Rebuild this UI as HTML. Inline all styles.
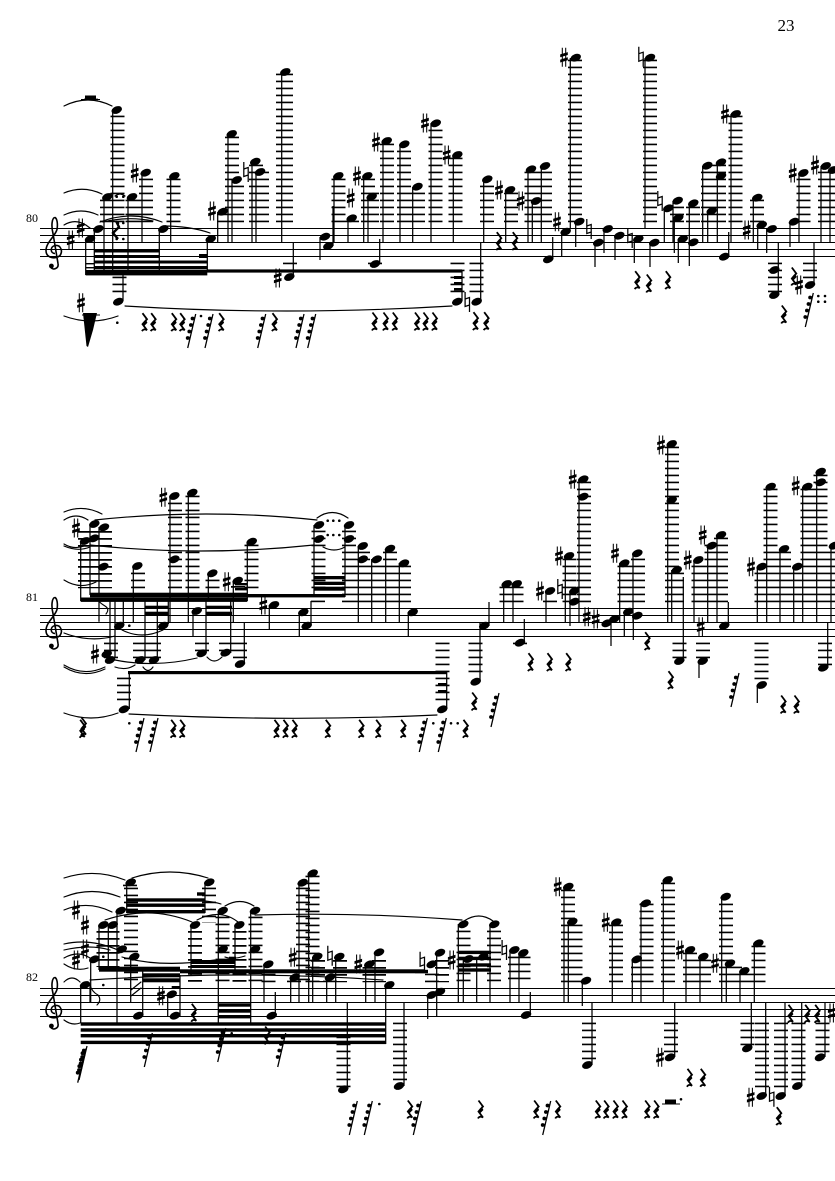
<!DOCTYPE html>
<html><head><meta charset="utf-8"><style>
html,body{margin:0;padding:0;background:#fff}
svg{display:block}
text{font-family:"Liberation Serif",serif;fill:#000}
.S{stroke:#000;stroke-width:1;fill:none}
.T{stroke:#000;stroke-width:1.25;fill:none}
.L{stroke:#000;fill:none;stroke-dasharray:1.7 5.3}
.C{stroke:#000;stroke-width:1.15;fill:none;stroke-linecap:round}
</style></head><body>
<svg width="835" height="1181" viewBox="0 0 835 1181" xmlns="http://www.w3.org/2000/svg">
<defs>
<ellipse id="h" rx="5.5" ry="3.6" transform="rotate(-22)"/>
<g id="s"><path d="M-1.7-9.5V9.5M1.7-9.5V9.5" stroke="#000" stroke-width="1.05"/><path d="M-3.8-2.9 3.8-5.2V-2.3L-3.8 0ZM-3.8 2.3 3.8 0V2.9L-3.8 5.2Z"/></g>
<path id="n" d="M-2.2-10V4.5L2.2 3M2.2 10V-4.5L-2.2-3" stroke="#000" stroke-width="1.25" fill="none"/>
<g id="r"><path d="M-1.5-9.5 3-3.5Q.5-1-1.5 1.5L3 7.5Q-.5 5.5-2 8.5" stroke="#000" stroke-width="1.8" fill="none"/><path d="M1-5 3.2-3.5-1.5 1.5 0 3.5 3.4 0Z"/></g>
<g id="t"><path d="M4-17-4 17" stroke="#000" stroke-width="1.3"/><circle cx="0.8" cy="-12.5" r="1.9"/><circle cx="-.8" cy="-6" r="1.9"/><circle cx="-2.4" cy=".5" r="1.9"/><circle cx="-4" cy="7" r="1.9"/><path d="M.8-11.5 3.5-14M-.8-5 2-7.5M-2.4 1.5 .5-1M-4 8-1 5.5" stroke="#000" stroke-width="1.1"/></g>
<g id="c"><path d="M1 4C-4 4-4-3 1-4 7-5 9 2 6 6 2 10-8 9-8 1-8-7 1-13 3-20 4-26 3-31 1-32-2-32-3-24-1-16L4 14C5 19-1 21-3 18" stroke="#000" stroke-width="1.6" fill="none"/><circle cx="-2.6" cy="16.5" r="2.4"/></g>
<circle id="d" r="1.3"/>
</defs>
<rect width="835" height="1181" fill="#fff"/>
<text x="777.5" y="31" font-size="17">23</text>
<text x="26" y="222" font-size="12">80</text>
<text x="26" y="601" font-size="12">81</text>
<text x="26" y="981" font-size="12">82</text>

<!-- staves -->
<path class="S" d="M40 228.5H835M40 235.5H835M40 242.5H835M40 249.5H835M40 256.5H835M40 608.5H835M40 615.5H835M40 622.5H835M40 629.5H835M40 636.5H835M40 988.5H835M40 995.5H835M40 1002.5H835M40 1009.5H835M40 1016.5H835"/>
<use href="#c" x="54" y="249.5"/><use href="#c" x="54" y="629.5"/><use href="#c" x="54" y="1009.5"/>

<!-- ===== SYSTEM 1 ===== -->
<path class="L" stroke-width="14" d="M117.5 115.6V222.2M107 199.6V222.2M132.5 199.6V222.2M146 178.6V222.2M173.5 178.6V222.2M224 213.6V222.2M232 136.6V222.2M237 185.6V222.2M256 164.6V222.2M262 171.6V222.2M290 262.6V271.2M338.5 178.6V222.2M352 220.6V222.2M368 178.6V222.2M372 192.6V222.2M375 262.6V264.2M387 143.6V222.2M404 150.6V222.2M418 192.6V222.2M435.5 129.6V222.2M455.5 157.6V222.2M487 185.6V222.2M511 192.6V222.2M531.5 171.6V222.2M545 171.6V222.2M575 59.6V222.2M650 59.6V222.2M677 206.6V222.2M693 206.6V222.2M708 171.6V222.2M719 164.6V222.2M735.5 115.6V222.2M757 199.6V222.2M803.5 178.6V222.2M825 171.6V222.2M833 171.6V222.2M457.5 262.6V292.2M476.5 262.6V292.2M775 262.6V292.2M810 262.6V278.2M119.5 276.6V292.2M91 98.6V100.2"/>
<path class="L" stroke-width="17" d="M284.5 73.6V222.2"/>
<path class="T" d="M85.7 239V275M94.3 229V270M104 197V270M112.7 110V270M128 197V270M142 173V243M159.3 229V270M170.7 176V243M207.3 239V270M217.7 212V243M228 134V243M232 180V243M252 162V243M256 172V243M281.7 72V243M293.3 243V277M320 237V260M333 246V206M334 176V243M348 218V243M363.7 176V243M368 197V243M379.7 239V264M383 141V243M400 144V243M412.7 187V243M431 123V243M453.3 155V243M483.7 179V243M462 270V301M480.7 242V301M123 275V301M505.7 190V243M528 169V243M532.3 201V243M541.3 166V243M552.7 237V259M561.7 232V257M575.7 222V247M570.3 58V229M595 243V267M604 229V253M615 236V260M634.3 239V263M650 243V267M645 58V229M664.3 208V243M674.3 218V253M673 201V243M689.3 203V266M678.3 239V263M707.7 211V243M702.7 166V243M717.3 162V243M731 114V243M728.7 232V256M753.3 198V243M757.7 225V249M766.7 229V253M778.3 243V295M814 243V285M790 222V247M799 173V243M821 166V243M830 170V243"/>
<!-- beams -->
<rect x="85.7" y="270" width="121.6" height="5.4"/>
<rect x="207" y="269.4" width="255" height="3.2"/>
<rect x="94.3" y="249.5" width="65" height="3"/>
<rect x="94.3" y="255" width="65" height="3"/>
<rect x="94.3" y="260.5" width="113" height="3"/>
<rect x="94.3" y="266" width="113" height="3.4"/>
<rect x="199" y="254" width="8" height="4"/>
<rect x="85.7" y="263" width="8.6" height="1.4"/><rect x="85.7" y="267" width="8.6" height="1.4"/>
<rect x="454" y="276" width="8" height="3"/><rect x="454" y="282" width="8" height="3"/><rect x="454" y="288" width="8" height="2.6"/>
<!-- heads -->
<g>
<use href="#h" x="116.7" y="110"/><use href="#h" x="107.3" y="197"/><use href="#h" x="132" y="197"/><use href="#h" x="145.7" y="172.7"/><use href="#h" x="174.3" y="176"/><use href="#h" x="222.7" y="211.7"/><use href="#h" x="231.7" y="134"/><use href="#h" x="236.7" y="180"/><use href="#h" x="255.3" y="161.7"/><use href="#h" x="260" y="172"/><use href="#h" x="285.3" y="72"/><use href="#h" x="289.3" y="277"/><use href="#h" x="325" y="236.7"/><use href="#h" x="328.3" y="246"/><use href="#h" x="338.3" y="176"/><use href="#h" x="351.7" y="218.3"/><use href="#h" x="367.3" y="176"/><use href="#h" x="371.7" y="196.7"/><use href="#h" x="375" y="264"/><use href="#h" x="386.7" y="141"/><use href="#h" x="404.3" y="144.3"/><use href="#h" x="417.5" y="186.7"/><use href="#h" x="435.7" y="123.3"/><use href="#h" x="457.3" y="155"/><use href="#h" x="487.3" y="179.3"/><use href="#h" x="457.3" y="301.7"/><use href="#h" x="476.7" y="301.7"/><use href="#h" x="510" y="190"/><use href="#h" x="531" y="169.3"/><use href="#h" x="536" y="201"/><use href="#h" x="545" y="166"/><use href="#h" x="548.3" y="259.3"/><use href="#h" x="565.7" y="231.7"/><use href="#h" x="579.3" y="221.7"/><use href="#h" x="575.7" y="57.7"/><use href="#h" x="598.3" y="242.7"/><use href="#h" x="607.7" y="229"/><use href="#h" x="619.3" y="235.7"/><use href="#h" x="638.3" y="239"/><use href="#h" x="654.3" y="242.7"/><use href="#h" x="650" y="57.7"/><use href="#h" x="668.3" y="208.3"/><use href="#h" x="677.7" y="200.7"/><use href="#h" x="678.3" y="217.7"/><use href="#h" x="693.3" y="203.3"/><use href="#h" x="682.7" y="239"/><use href="#h" x="693.3" y="242.3"/><use href="#h" x="711.7" y="211"/><use href="#h" x="707.3" y="165.7"/><use href="#h" x="721" y="162.3"/><use href="#h" x="721" y="176"/><use href="#h" x="735.7" y="114"/><use href="#h" x="724.3" y="256.7"/><use href="#h" x="757.3" y="197.7"/><use href="#h" x="761.7" y="225"/><use href="#h" x="771.7" y="229"/><use href="#h" x="774.3" y="295"/><use href="#h" x="774.3" y="270"/><use href="#h" x="810" y="285"/><use href="#h" x="794" y="221.7"/><use href="#h" x="803.3" y="173"/><use href="#h" x="825.7" y="166"/><use href="#h" x="833" y="170"/><use href="#h" x="90" y="239"/><use href="#h" x="98.3" y="229"/><use href="#h" x="163.3" y="229"/><use href="#h" x="210.7" y="239"/><use href="#h" x="118.3" y="301.7"/>
</g>
<!-- accidentals -->
<use href="#s" x="70.7" y="240"/><use href="#s" x="80.7" y="228"/><use href="#s" x="134.7" y="173"/><use href="#s" x="212" y="211"/><use href="#n" x="246" y="172"/><use href="#s" x="277.7" y="278"/><use href="#s" x="350.7" y="198"/><use href="#s" x="357" y="176"/><use href="#s" x="376" y="142"/><use href="#s" x="425" y="123"/><use href="#s" x="446.7" y="155"/><use href="#n" x="467.3" y="302"/><use href="#s" x="499" y="190"/><use href="#s" x="520.7" y="201"/><use href="#s" x="557" y="221.7"/><use href="#s" x="564" y="57.3"/><use href="#n" x="589" y="229"/><use href="#n" x="630" y="238"/><use href="#n" x="641" y="56.7"/><use href="#n" x="660" y="201"/><use href="#s" x="725" y="114"/><use href="#s" x="746.7" y="230"/><use href="#s" x="799" y="285"/><use href="#s" x="792.7" y="173"/><use href="#s" x="815" y="165"/><use href="#s" x="81" y="302.7"/>
<!-- rests -->
<rect x="85" y="95.5" width="11" height="3.6"/><path class="S" d="M81 99.5H100"/>
<path d="M83 313H97L93 330 88 347 86.5 346Z"/><path class="S" d="M82 315H100"/>
<use href="#r" x="144" y="322.7"/><use href="#r" x="152.7" y="322.7"/><use href="#r" x="173.3" y="322.7"/><use href="#r" x="181.7" y="322.7"/><use href="#t" x="191.7" y="331"/><use href="#t" x="209" y="331"/><use href="#r" x="220.7" y="322.7"/><use href="#t" x="261.7" y="331"/><use href="#r" x="274" y="322.7"/><use href="#t" x="300" y="331"/><use href="#t" x="311.7" y="331"/><use href="#r" x="374" y="322"/><use href="#r" x="385" y="322"/><use href="#r" x="394.3" y="322"/><use href="#r" x="416.5" y="322"/><use href="#r" x="425" y="322"/><use href="#r" x="434" y="322"/><use href="#r" x="475" y="321.7"/><use href="#r" x="485.7" y="321.7"/><use href="#r" x="498.3" y="241.7"/><use href="#r" x="514.3" y="241.7"/><use href="#r" x="636.7" y="280.7"/><use href="#r" x="648.3" y="284"/><use href="#r" x="667.3" y="280.7"/><use href="#r" x="783.3" y="315"/><use href="#r" x="793.3" y="277"/><use href="#t" x="809.3" y="310"/>
<!-- dots -->
<use href="#d" x="116.7" y="196.7"/><use href="#d" x="123.3" y="196.7"/><use href="#d" x="116.7" y="239"/><use href="#d" x="123.3" y="239"/><use href="#d" x="118" y="223"/><use href="#d" x="123.3" y="223"/><use href="#d" x="117.3" y="322.7"/><use href="#d" x="201" y="316"/><use href="#d" x="818.3" y="296"/><use href="#d" x="825" y="296"/><use href="#d" x="818.3" y="301.7"/><use href="#d" x="825" y="301.7"/>
<path d="M116 221 119 227 113 233 118 239" stroke="#000" stroke-width="2.4" fill="none"/>
<!-- slurs -->
<path class="C" d="M64 106Q88 94 112 106M64 193Q83 185 102 194M64 215Q81 207 98 215M64 225Q77 217 90 228M100 222Q131 210 162 222M103 222Q128 216 153 221M115 196Q120 192 125 196M163 226Q190 226 210 233M125 306Q285 316 452 306M64 316Q91 326 118 316"/>

<!-- ===== SYSTEM 2 ===== -->
<path class="L" stroke-width="14" d="M85 531V588.2M95 531V588.2M105 531V588.2M138 572.6V588.2M175 502.6V588.2M192.5 495.6V588.2M212.5 579.6V588.2M238 586V588.2M251.5 544.6V588.2M318.5 530.6V588.2M349 530.6V602.2M363 551.6V602.2M377 565.6V602.2M390 551.6V602.2M404 565.6V602.2M140 642.6V658.2M154 642.6V658.2M111 642.6V658.2M202 642.6V651.2M226 642.6V651.2M240 642.6V658.2M124 677.6V700.2M442.5 642.6V702.2M475.5 642.6V672.2M506.5 586.6V602.2M516.5 586.6V602.2M520 642.6V644.2M550 600.6V602.2M569.5 558.6V602.2M584 481.6V602.2M624.5 565.6V602.2M638 558.6V602.2M672 446.6V602.2M677 572.6V602.2M679.5 642.6V658.2M698.5 565.6V602.2M711.5 544.6V602.2M721 537.6V602.2M703 642.6V658.2M761.5 642.6V679.2M761.5 572.6V602.2M770.5 488.6V602.2M784 551.6V602.2M797.5 572.6V602.2M807.5 488.6V602.2M820.5 474.6V602.2M825 642.6V665.2M833 551.6V602.2"/>
<path class="L" stroke-width="14" d="M318 600.6V602.2"/>
<path class="T" d="M80.7 541V601M90 524V595M99 527V595M99 601V621.7M133.3 566V622M170 496V622M188.3 493V622M208.3 573V601M233.3 581V622M247.3 542V601M314 525V597M345 525V597M358.3 546V622M371.7 559V622M385.7 549V622M399.3 563V622M408.3 612V636M269.3 605V629M299.3 612V636M311 601V626M110 598V660M115 598V657M123.3 598V622M145 598V660M157.3 598V660M168.3 598V624M193 611V636M206 598V653M230.7 598V653M244.3 622V664M129.3 672V709M446.7 672V709M480 622V682M489 602V626M503.7 584V622M513 584V622M524.3 619V643M546 591V622M570 591V626M565.3 556V622M579 479V622M611 619V646M619.7 563V622M633 553V622M624.3 612V637M633.3 616V640M667.7 444V622M671.7 570V622M683.3 577V661M694 560V622M707.7 546V622M717 535V622M699 661V678M728.3 602V626M757.3 685V703M757.3 567V622M766.7 487V622M780 549V622M793.7 567V622M802.7 487V622M816.7 472V622M827.7 622V668M831 546V622"/>
<path class="C" stroke-width="1.5" d="M99 601Q100 603 105 606 110 609 106 614"/>
<!-- beams -->
<rect x="90" y="592.7" width="157.3" height="4.6"/>
<rect x="80.7" y="597.5" width="166.6" height="4.4"/>
<rect x="247" y="594" width="98" height="3.4"/>
<rect x="314" y="576" width="31" height="3.3"/><rect x="314" y="581.7" width="31" height="3.3"/><rect x="314" y="586.7" width="31" height="4"/>
<rect x="145" y="605.7" width="23" height="2.8"/><rect x="145" y="611.7" width="23" height="3.3"/>
<rect x="206" y="605.7" width="26" height="2.8"/><rect x="206" y="611.7" width="26" height="3.3"/>
<rect x="235" y="583" width="12" height="2.4"/><rect x="235" y="588" width="12" height="2.4"/>
<rect x="128" y="671" width="319" height="3.2"/>
<rect x="438" y="683" width="8.5" height="3"/><rect x="438" y="690" width="8.5" height="3"/>
<!-- heads -->
<g>
<use href="#h" x="85" y="541"/><use href="#h" x="94" y="538.3"/><use href="#h" x="94.3" y="524"/><use href="#h" x="104" y="527.3"/><use href="#h" x="103.3" y="566.7"/><use href="#h" x="137.3" y="566"/><use href="#h" x="174.3" y="496"/><use href="#h" x="174.3" y="559.3"/><use href="#h" x="192.3" y="492.7"/><use href="#h" x="212.3" y="573.3"/><use href="#h" x="237.7" y="580.7"/><use href="#h" x="251.7" y="541.7"/><use href="#h" x="319" y="525"/><use href="#h" x="319" y="539"/><use href="#h" x="349" y="525"/><use href="#h" x="349" y="539"/><use href="#h" x="362.7" y="546"/><use href="#h" x="362.7" y="559.3"/><use href="#h" x="376.7" y="559.3"/><use href="#h" x="390" y="548.7"/><use href="#h" x="404" y="563.3"/><use href="#h" x="412.7" y="612.3"/><use href="#h" x="274" y="605"/><use href="#h" x="303.3" y="612.3"/><use href="#h" x="306.7" y="625.7"/><use href="#h" x="119.3" y="625.7"/><use href="#h" x="163.3" y="625.7"/><use href="#h" x="140" y="660"/><use href="#h" x="154" y="660"/><use href="#h" x="106.7" y="654"/><use href="#h" x="110" y="660"/><use href="#h" x="196.7" y="611"/><use href="#h" x="201.7" y="653.3"/><use href="#h" x="225.7" y="652.7"/><use href="#h" x="240" y="664"/><use href="#h" x="124" y="709.3"/><use href="#h" x="442.3" y="709.3"/><use href="#h" x="484.3" y="625.7"/><use href="#h" x="475.7" y="681.7"/><use href="#h" x="506.7" y="584"/><use href="#h" x="516.7" y="584"/><use href="#h" x="520" y="642.7"/><use href="#h" x="550" y="591"/><use href="#h" x="574.3" y="591"/><use href="#h" x="574.3" y="601.7"/><use href="#h" x="569" y="556"/><use href="#h" x="583.3" y="479.3"/><use href="#h" x="583.3" y="496.7"/><use href="#h" x="606.7" y="623.3"/><use href="#h" x="614.3" y="619"/><use href="#h" x="624.3" y="563.3"/><use href="#h" x="637.3" y="553.3"/><use href="#h" x="628.3" y="611.7"/><use href="#h" x="637.3" y="615.7"/><use href="#h" x="671.7" y="444"/><use href="#h" x="671.7" y="500"/><use href="#h" x="676.7" y="570"/><use href="#h" x="679.3" y="661"/><use href="#h" x="698.3" y="560"/><use href="#h" x="711.7" y="545.7"/><use href="#h" x="721" y="535"/><use href="#h" x="702.7" y="661"/><use href="#h" x="724.3" y="625.7"/><use href="#h" x="761.7" y="685"/><use href="#h" x="761.7" y="566.7"/><use href="#h" x="770.7" y="486.7"/><use href="#h" x="784" y="549"/><use href="#h" x="797.3" y="566.7"/><use href="#h" x="807.3" y="486.7"/><use href="#h" x="820.7" y="471.7"/><use href="#h" x="820.7" y="482.3"/><use href="#h" x="834" y="545.7"/><use href="#h" x="823.3" y="667.7"/>
</g>
<!-- accidentals -->
<use href="#s" x="76" y="528"/><use href="#s" x="95" y="654"/><use href="#s" x="163.3" y="497.3"/><use href="#s" x="226.7" y="581.7"/><use href="#s" x="263.3" y="605"/><use href="#s" x="540" y="591"/><use href="#n" x="560" y="589"/><use href="#s" x="559" y="556"/><use href="#s" x="572.7" y="479.3"/><use href="#s" x="586.7" y="616.7"/><use href="#s" x="595.7" y="619"/><use href="#s" x="615" y="553.3"/><use href="#s" x="661" y="445"/><use href="#s" x="687.7" y="560"/><use href="#s" x="702.7" y="535"/><use href="#s" x="700.7" y="626.7"/><use href="#s" x="751" y="566.7"/><use href="#s" x="795.7" y="485.7"/>
<!-- rests -->
<use href="#r" x="81.7" y="729.3"/><use href="#r" x="83" y="727"/><use href="#t" x="140" y="735"/><use href="#t" x="154" y="735"/><use href="#r" x="172.7" y="729.3"/><use href="#r" x="181.7" y="729.3"/><use href="#r" x="276" y="729.3"/><use href="#r" x="285" y="729.3"/><use href="#r" x="294" y="729.3"/><use href="#r" x="327.3" y="729.3"/><use href="#r" x="360.7" y="729.3"/><use href="#r" x="377.7" y="729.3"/><use href="#r" x="402.7" y="729.3"/><use href="#t" x="423.3" y="735"/><use href="#t" x="442.3" y="735"/><use href="#r" x="465" y="729.3"/><use href="#t" x="495" y="710"/><use href="#r" x="473.7" y="702"/><use href="#r" x="530" y="662.7"/><use href="#r" x="549" y="662.7"/><use href="#r" x="567.7" y="662.7"/><use href="#r" x="646.7" y="641.7"/><use href="#r" x="670" y="680.7"/><use href="#t" x="735" y="690"/><use href="#r" x="782.7" y="705"/><use href="#r" x="796" y="705"/>
<!-- dots -->
<use href="#d" x="129.3" y="625.7"/><use href="#d" x="327.7" y="520.7"/><use href="#d" x="333.3" y="520.7"/><use href="#d" x="339.3" y="520.7"/><use href="#d" x="327.7" y="535"/><use href="#d" x="333.3" y="535"/><use href="#d" x="339.3" y="535"/><use href="#d" x="129.3" y="723.3"/><use href="#d" x="433.3" y="723.3"/><use href="#d" x="451" y="723.3"/><use href="#d" x="457.7" y="723.3"/>
<!-- slurs -->
<path class="C" d="M64 512Q83 504 102 514M64 520Q76 512 88 520M64 544Q74 550 84 546M64 546Q78 552 90 547M64 580Q80 590 96 582M64 633Q90 643 115 636M64 665Q84 677 105 667M64 667Q84 679 105 669M95 520Q206 508 317 520M90 545Q200 557 314 545M317 518Q332 507 348 518M323 547Q334 553 345 547M122 630Q142 640 163 630M115 660Q155 668 197 658M207 657Q214 665 222 657M115 667Q126 671 135 665M143 667Q148 674 153 667M64 713Q91 723 118 713M129 714Q285 722 437 715"/>

<!-- ===== SYSTEM 3 ===== -->
<path class="L" stroke-width="14" d="M131 887.6V982.2M130 884.6V886.2M209 887.6V923M103.5 931V967M112.5 931V967M222.5 916.6V982.2M255.5 916.6V982.2M195 931V982.2M239.5 931V982.2M268.5 973.6V982.2M303 887.6V982.2M312.5 875.6V982.2M318 960V982.2M340 960V982.2M369.5 967V982.2M379 960V982.2M294 980.6V982.2M330 980.6V982.2M343.5 1022.6V1087.2M400 1022.6V1080.2M432 973.6V982.2M442 960V982.2M463.5 930.6V982.2M494 930.6V982.2M515 956.6V982.2M523.5 956.6V982.2M568 889.6V982.2M575.5 924.6V982.2M589 1022.6V1059.2M616 924.6V982.2M638 966.6V982.2M646.5 903.6V982.2M668 882.6V982.2M690 952.6V982.2M704 959.6V982.2M726 903.6V982.2M735 966.6V982.2M745.5 973.6V982.2M758.5 945.6V982.2M671 1022.6V1052.2M747.5 1022.6V1045.2M762 1022.6V1087.2M781 1022.6V1087.2M798.5 1022.6V1080.2M822.5 1022.6V1052.2"/>
<path class="T" d="M80.7 985V1023.3M90 985V1002M126.7 882V913M205 882V913M117 911V1023M99 925V970M108.3 925V970M90.7 959V1002M130.7 957V1002M142.7 970V1015M180 975V1016M167.7 994V1017M218.3 911V1023M250.7 911V1023M191 925V975M235 925V975M264 964V1002M275.3 992V1016M299 883V1002M308.7 873V1002M290.7 977V1002M312.7 957V1002M326.7 977V1002M335.7 957V1002M365.7 964V1002M375 952V1002M385.7 985V1044M347.3 1002V1089M404 1002V1086M427.7 995V1019M436.7 953V1017M458.3 924V1002M490 924V1002M463.3 959V1002M476.7 957V1002M510 950V1002M519 953V1002M530.3 992V1015M582.3 981V1006M564 887V1002M568.3 922V1002M592 1002V1065M612.3 922V1002M632.3 959V1002M641 903V1002M663.3 880V1002M686 950V1002M700 957V1002M721.7 897V1002M726.3 963V1002M740 971V1002M754.3 943V1002M674.7 1002V1057M751.3 1002V1048M765.7 1002V1096M785 1002V1096M801.7 1002V1086M825 1002V1057"/>
<path class="C" stroke-width="1.6" d="M90 985Q92 992 98 995 102 1000 97 1005M131 990 141 982M131 996 141 988"/>
<!-- beams -->
<rect x="80.7" y="1022.3" width="305.3" height="3.4"/><rect x="80.7" y="1028.3" width="305.3" height="3.4"/><rect x="80.7" y="1034" width="305.3" height="3.4"/><rect x="80.7" y="1040.7" width="305.3" height="3.4"/>
<rect x="218.3" y="1003.3" width="32.4" height="3.4"/><rect x="218.3" y="1009.3" width="32.4" height="3.4"/><rect x="218.3" y="1015" width="32.4" height="3.4"/>
<rect x="126.7" y="898.3" width="78.3" height="3.4"/><rect x="126.7" y="903.5" width="78.3" height="3.4"/><rect x="126.7" y="910" width="78.3" height="3.4"/><rect x="197" y="892.3" width="7.5" height="3.4"/>
<rect x="99" y="966.7" width="81" height="5"/><rect x="180" y="969.3" width="245" height="4"/>
<rect x="142.7" y="973.3" width="37.3" height="4"/><rect x="142.7" y="978.3" width="37.3" height="4"/>
<rect x="191" y="960" width="44" height="4"/><rect x="191" y="965" width="44" height="3"/><rect x="229" y="956.7" width="7" height="3.4"/>
<rect x="171.7" y="986" width="8.3" height="2.4"/>
<rect x="415" y="969.8" width="13" height="3.4"/>
<rect x="458.3" y="950.7" width="32.7" height="3.4"/><rect x="458.3" y="956.7" width="32.7" height="3.4"/><rect x="458.3" y="963.3" width="32.7" height="3.4"/><rect x="458.3" y="968.3" width="32.7" height="3.4"/>
<!-- heads -->
<g>
<use href="#h" x="130.7" y="882.3"/><use href="#h" x="209.3" y="882.3"/><use href="#h" x="120.7" y="910.7"/><use href="#h" x="103.3" y="925"/><use href="#h" x="112.7" y="925"/><use href="#h" x="94.3" y="959.3"/><use href="#h" x="121.7" y="949.3"/><use href="#h" x="134.3" y="956.7"/><use href="#h" x="138.3" y="1015.7"/><use href="#h" x="175" y="1015.7"/><use href="#h" x="171.7" y="994.3"/><use href="#h" x="85" y="985"/><use href="#h" x="222.7" y="910.7"/><use href="#h" x="255" y="910.7"/><use href="#h" x="222.7" y="949.3"/><use href="#h" x="255" y="949.3"/><use href="#h" x="195" y="925"/><use href="#h" x="239.3" y="925"/><use href="#h" x="268.3" y="964.3"/><use href="#h" x="271.7" y="1015.7"/><use href="#h" x="302.7" y="882.7"/><use href="#h" x="312.7" y="873.3"/><use href="#h" x="317.3" y="956.7"/><use href="#h" x="294.7" y="977.3"/><use href="#h" x="339.3" y="956.7"/><use href="#h" x="330" y="977.3"/><use href="#h" x="369.3" y="964.3"/><use href="#h" x="379" y="952.3"/><use href="#h" x="389.3" y="985"/><use href="#h" x="343.3" y="1089.3"/><use href="#h" x="399" y="1086"/><use href="#h" x="431.7" y="964.3"/><use href="#h" x="440" y="952.7"/><use href="#h" x="431.7" y="995"/><use href="#h" x="440" y="991.7"/><use href="#h" x="463.3" y="924.3"/><use href="#h" x="494.3" y="924.3"/><use href="#h" x="468.3" y="959"/><use href="#h" x="483.3" y="956.7"/><use href="#h" x="514.3" y="950"/><use href="#h" x="523.3" y="953"/><use href="#h" x="526" y="1015"/><use href="#h" x="586" y="980.7"/><use href="#h" x="568.3" y="886.7"/><use href="#h" x="572.3" y="921.7"/><use href="#h" x="587.3" y="1065"/><use href="#h" x="616.3" y="922.3"/><use href="#h" x="636.7" y="959.3"/><use href="#h" x="645.7" y="903.3"/><use href="#h" x="667.7" y="880"/><use href="#h" x="690" y="950"/><use href="#h" x="703.3" y="956.7"/><use href="#h" x="725.7" y="896.7"/><use href="#h" x="730" y="963.3"/><use href="#h" x="744.3" y="971"/><use href="#h" x="758.3" y="943.3"/><use href="#h" x="670" y="1057.3"/><use href="#h" x="747.3" y="1048.3"/><use href="#h" x="761.7" y="1096"/><use href="#h" x="780.7" y="1096"/><use href="#h" x="797.3" y="1086"/><use href="#h" x="820" y="1057.3"/>
</g>
<!-- accidentals -->
<use href="#s" x="76" y="910"/><use href="#s" x="85" y="925"/><use href="#s" x="85" y="949"/><use href="#s" x="76" y="960"/><use href="#s" x="161" y="995.7"/><use href="#s" x="292.7" y="957.3"/><use href="#n" x="330" y="955.7"/><use href="#s" x="358.3" y="964"/><use href="#n" x="422.3" y="961.7"/><use href="#s" x="451.7" y="960"/><use href="#n" x="504.3" y="950"/><use href="#s" x="557.7" y="886.7"/><use href="#s" x="605.7" y="922.3"/><use href="#s" x="680" y="950"/><use href="#s" x="715" y="963.3"/><use href="#s" x="660" y="1057.3"/><use href="#s" x="750.7" y="1097.3"/><use href="#n" x="771.7" y="1096.7"/><use href="#s" x="831.7" y="1013"/>
<!-- rests -->
<use href="#r" x="193.3" y="1013.3"/><use href="#t" x="81.7" y="1065.7"/><use href="#t" x="83" y="1063"/><use href="#t" x="148.3" y="1050"/><use href="#t" x="221.7" y="1045"/><use href="#r" x="266.7" y="1036"/><use href="#t" x="281.7" y="1050"/><use href="#t" x="353.3" y="1118"/><use href="#t" x="368.3" y="1118"/><use href="#r" x="409.3" y="1110"/><use href="#t" x="417.3" y="1118"/><use href="#r" x="480" y="1110"/><use href="#r" x="535.7" y="1110"/><use href="#t" x="546.7" y="1118"/><use href="#r" x="557.3" y="1110"/><use href="#r" x="597.3" y="1110"/><use href="#r" x="605.7" y="1110"/><use href="#r" x="615" y="1110"/><use href="#r" x="624" y="1110"/><use href="#r" x="646.7" y="1110"/><use href="#r" x="655.7" y="1110"/><rect x="665" y="1099.5" width="11" height="4"/><path class="S" d="M662 1104H680"/><use href="#r" x="689" y="1078.3"/><use href="#r" x="702.3" y="1078.3"/><use href="#r" x="778.3" y="1116.7"/><use href="#r" x="790" y="1014.3"/><use href="#r" x="806.7" y="1014.3"/><use href="#r" x="816.7" y="1014.3"/>
<!-- dots -->
<use href="#d" x="103.3" y="985"/><use href="#d" x="103.3" y="956.7"/><use href="#d" x="231.7" y="1033.3"/><use href="#d" x="379.3" y="1104"/><use href="#d" x="681" y="1099.3"/>
<!-- slurs -->
<path class="C" d="M64 878Q95 868 125 880M64 897Q92 886 120 897M64 910Q88 900 112 912M64 944Q90 938 118 950M64 950Q90 944 110 950M64 958Q78 950 90 958M64 964Q76 972 88 968M64 982Q72 974 80 982M64 1020Q72 1026 80 1023M132 878Q170 866 208 878M105 920Q150 905 192 922M197 920Q220 908 238 922M225 906Q240 897 254 906M205 901Q215 902 221 904M255 915Q360 912 462 920M464 921Q479 911 493 921M90 980Q240 970 383 980M122 957Q160 968 215 960M225 957Q232 960 245 956"/>
</svg>
</body></html>
